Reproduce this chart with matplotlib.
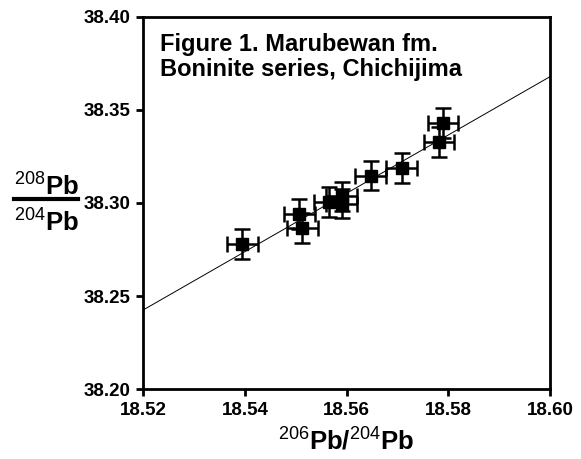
import matplotlib
matplotlib.use("Agg")
import matplotlib.pyplot as plt
from matplotlib.lines import Line2D

plt.rcParams['font.family'] = ['Liberation Sans', 'DejaVu Sans']
plt.rcParams['mathtext.fontset'] = 'custom'
plt.rcParams['mathtext.rm'] = 'Liberation Sans'
plt.rcParams['mathtext.bf'] = 'Liberation Sans:bold'

pb206_204 = [18.5395, 18.5507, 18.5513, 18.5566, 18.5590, 18.5590, 18.5647, 18.5708, 18.5782, 18.5790]
pb208_204 = [38.2778, 38.2941, 38.2867, 38.3007, 38.3035, 38.2997, 38.3147, 38.3186, 38.3329, 38.3428]
x_err = 0.003
y_err = 0.008
fit_x = [18.52, 18.60]
fit_y = [38.2426, 38.3678]
x_ticks = [18.52, 18.54, 18.56, 18.58, 18.60]
y_ticks = [38.20, 38.25, 38.30, 38.35, 38.40]
title_lines = ["Figure 1. Marubewan fm.", "Boninite series, Chichijima"]

fig = plt.figure(figsize=(5.81, 4.59), dpi=100)
ax = fig.add_axes([0.2467, 0.152, 0.6999, 0.8116])

ax.plot(fit_x, fit_y, color='black', lw=0.7, zorder=1)
ax.errorbar(pb206_204, pb208_204, xerr=x_err, yerr=y_err, fmt='s', color='black',
            ms=8.5, elinewidth=1.8, capsize=6, capthick=1.8, zorder=2)

ax.set_xlim(18.52, 18.60)
ax.set_ylim(38.20, 38.40)
ax.set_xticks(x_ticks)
ax.set_xticklabels([f"{v:.2f}" for v in x_ticks])
ax.set_yticks(y_ticks)
ax.set_yticklabels([f"{v:.2f}" for v in y_ticks])
for s in ax.spines.values():
    s.set_linewidth(2)
ax.tick_params(direction='out', length=5, width=2, labelsize=13.5, pad=4)
for lab in ax.get_xticklabels() + ax.get_yticklabels():
    lab.set_fontweight('bold')

ax.text(0.04, 0.955, title_lines[0] + "\n" + title_lines[1], transform=ax.transAxes,
        fontsize=17, fontweight='bold', va='top', ha='left', linespacing=1.1)

fig.text(346/581, 1 - 440/459, r'$^{206}$Pb/$^{204}$Pb', fontsize=18.5, fontweight='bold',
         ha='center', va='center')
fig.text(46/581, 1 - 186/459, r'$^{208}$Pb', fontsize=18.5, fontweight='bold', ha='center', va='center')
fig.text(46/581, 1 - 222/459, r'$^{204}$Pb', fontsize=18.5, fontweight='bold', ha='center', va='center')
fig.add_artist(Line2D([14/581, 78/581], [1 - 199/459, 1 - 199/459], color='black', lw=3,
                      transform=fig.transFigure))

fig.savefig("out.png", dpi=100)
